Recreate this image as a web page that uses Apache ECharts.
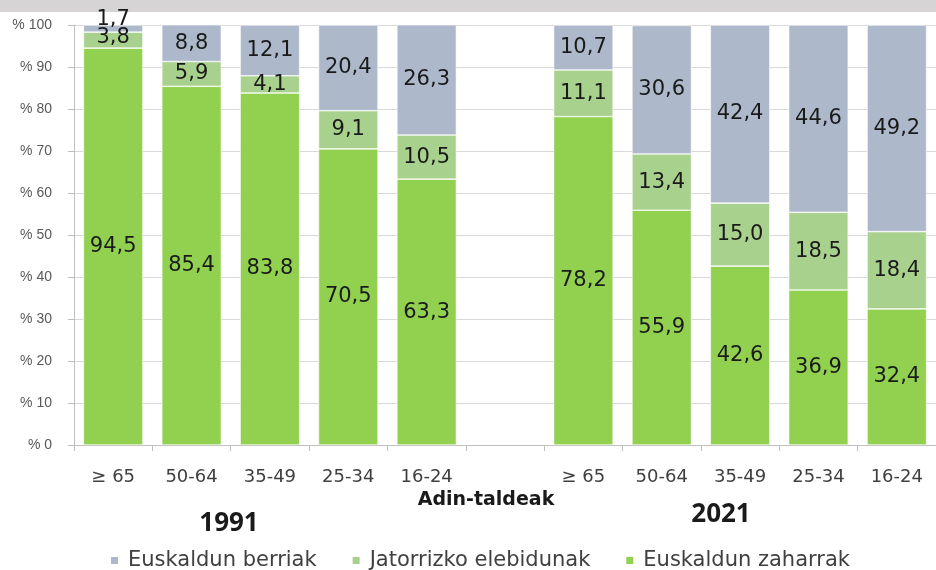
<html>
<head>
    <meta charset="utf-8">
    <title>Adin-taldeak 1991 - 2021</title>
    <script src="https://cdn.jsdelivr.net/npm/echarts@6/dist/echarts.min.js"></script>
    <style>
        html, body { margin: 0; padding: 0; background: #fff; }
        #main { width: 936px; height: 570px; }
    </style>
</head>
<body>
<div id="main"></div>
<script type="text/javascript">
    // adin-taldeak, 1991 eta 2021 artean hutsune bat
    var categories = ['≥ 65', '50-64', '35-49', '25-34', '16-24', '', '≥ 65', '50-64', '35-49', '25-34', '16-24'];
    var zaharrak = [94.5, 85.4, 83.8, 70.5, 63.3, null, 78.2, 55.9, 42.6, 36.9, 32.4];
    var elebidunak = [3.8, 5.9, 4.1, 9.1, 10.5, null, 11.1, 13.4, 15.0, 18.5, 18.4];
    var berriak = [1.7, 8.8, 12.1, 20.4, 26.3, null, 10.7, 30.6, 42.4, 44.6, 49.2];
    var yTicks = [0, 10, 20, 30, 40, 50, 60, 70, 80, 90, 100];

    function fmt(p) {
        return p.value == null ? '' : p.value.toFixed(1).replace('.', ',');
    }

    var labelStyle = {
        show: true,
        position: 'inside',
        color: '#1a1a1a',
        fontSize: 21,
        fontFamily: 'DejaVu Sans',
        formatter: fmt
    };

    // lehen zutabeko segmentu txikietan etiketa gora
    function withOffset(arr, idx, off) {
        return arr.map(function (v, i) {
            if (i === idx) return { value: v, label: { offset: off } };
            return v;
        });
    }

    var myChart = echarts.init(document.getElementById('main'));
    var option = {
        animation: false,
        grid: {
            left: 74,
            top: 25,
            width: 870,
            height: 420
        },
        legend: {
            data: ['Euskaldun berriak', 'Jatorrizko elebidunak', 'Euskaldun zaharrak'],
            top: 545,
            left: 104,
            itemWidth: 9,
            itemHeight: 9,
            itemGap: 34,
            icon: 'rect',
            textStyle: { fontSize: 21, color: '#404040', fontFamily: 'DejaVu Sans', padding: [0, 0, 0, 4] }
        },
        xAxis: {
            type: 'category',
            data: categories,
            axisLine: { lineStyle: { color: '#bfbfbf' } },
            axisTick: { show: true, length: 6, lineStyle: { color: '#bfbfbf' } },
            axisLabel: { color: '#404040', fontSize: 18, margin: 23, fontFamily: 'DejaVu Sans' }
        },
        yAxis: {
            type: 'value',
            min: 0,
            max: 100,
            interval: 10,
            axisLine: { show: true, lineStyle: { color: '#bfbfbf' } },
            axisTick: { show: true, length: 6, lineStyle: { color: '#bfbfbf' } },
            splitLine: { lineStyle: { color: '#d9d9d9' } },
            axisLabel: {
                color: '#595959',
                fontSize: 14,
                margin: 22,
                fontFamily: '"Liberation Sans Narrow", "Liberation Sans"',
                formatter: function (v) { return yTicks.indexOf(v) >= 0 ? '% ' + v : ''; }
            }
        },
        series: [
            {
                name: 'Euskaldun zaharrak',
                type: 'bar',
                stack: 'guztira',
                barCategoryGap: '24%',
                itemStyle: { color: '#92d050', borderColor: '#ffffff', borderWidth: 0.6 },
                label: labelStyle,
                data: zaharrak
            },
            {
                name: 'Jatorrizko elebidunak',
                type: 'bar',
                stack: 'guztira',
                itemStyle: { color: '#a9d18e', borderColor: '#ffffff', borderWidth: 0.6 },
                label: labelStyle,
                data: withOffset(elebidunak, 0, [0, -3])
            },
            {
                name: 'Euskaldun berriak',
                type: 'bar',
                stack: 'guztira',
                itemStyle: { color: '#adb9ca', borderColor: '#ffffff', borderWidth: 0.6 },
                label: labelStyle,
                data: withOffset(berriak, 0, [0, -9])
            }
        ],
        graphic: [
            { type: 'rect', left: 0, top: 0, shape: { width: 936, height: 12 }, style: { fill: '#d6d4d5' } },
            { type: 'text', x: 486, y: 500, style: { text: 'Adin-taldeak', font: 'bold 19px "DejaVu Sans"', fill: '#1a1a1a', align: 'center', verticalAlign: 'middle' } },
            { type: 'text', x: 229, y: 524, style: { text: '1991', font: 'bold 26px "Open Sans"', fill: '#1a1a1a', align: 'center', verticalAlign: 'middle' } },
            { type: 'text', x: 721, y: 515, style: { text: '2021', font: 'bold 26px "Open Sans"', fill: '#1a1a1a', align: 'center', verticalAlign: 'middle' } }
        ]
    };
    myChart.setOption(option);
</script>
</body>
</html>
